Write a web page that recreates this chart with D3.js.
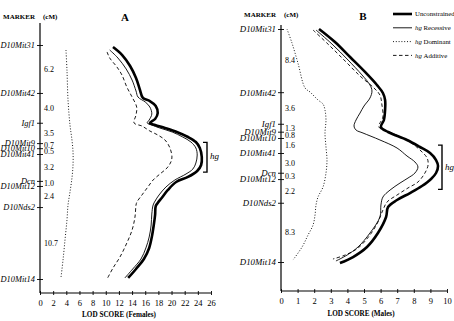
<!DOCTYPE html>
<html><head><meta charset="utf-8">
<script src="https://cdn.jsdelivr.net/npm/d3@7"></script>
<style>
html,body{margin:0;padding:0;background:#fff;}
svg{display:block;font-family:"Liberation Serif","Times New Roman",serif;}
</style></head>
<body><svg id="c" width="454" height="321"></svg>
<script>
// ---------- DATA ----------
const markersA = ["D10Mit31","D10Mit42","Igf1","D10Mit9","D10Mit10","D10Mit41","Dcn","D10Mit12","D10Nds2","D10Mit14"];
const markerPosA = [0, 6.6, 10.7, 13.5, 14.2, 15.0, 18.7, 19.4, 22.3, 32.2];
const intervalsA = ["6.2","4.0","3.5","0.7","0.5","3.2","1.0","2.4","10.7"];
const xTicksA = [0,2,4,6,8,10,12,14,16,18,20,22,24,26];

const markersB = ["D10Mit31","D10Mit42","Igf1","D10Mit9","D10Mit10","D10Mit41","Dcn","D10Mit12","D10Nds2","D10Mit14"];
const markerPosB = [0, 8.0, 12.0, 13.0, 13.8, 15.7, 18.2, 19.0, 22.0, 29.5];
const intervalsB = ["8.4","3.6","1.3","0.8","1.6","3.0","0.3","2.2","8.3"];
const xTicksB = [0,1,2,3,4,5,6,7,8,9,10];

// [position (cM), LOD]
const unconstrainedA = [[0.28,11.1],[1.38,12.5],[2.89,13.7],[4.54,14.6],[6.19,15.2],[7.29,15.65],[7.71,16.7],[8.39,17.6],[9.36,17.9],[10.18,17.5],[10.73,16.7],[11.01,17.5],[11.42,19.0],[11.97,20.8],[12.66,22.5],[13.35,23.7],[14.17,24.3],[15.41,24.6],[16.51,24.5],[17.34,23.9],[18.16,22.5],[18.85,20.7],[19.95,19.45],[21.05,18.5],[21.74,17.9],[22.15,17.6],[23.39,17.5],[24.77,17.3],[26.42,17.0],[27.93,16.6],[29.45,15.8],[30.82,14.6],[32.06,13.4]];
const recessiveA = [[0.69,10.6],[1.79,11.85],[3.30,13.1],[4.82,14.0],[6.33,14.6],[7.16,14.9],[7.84,16.0],[8.53,16.7],[9.50,17.0],[10.32,16.6],[10.73,16.3],[11.01,17.0],[11.42,18.2],[11.97,20.1],[12.66,21.7],[13.35,22.95],[14.17,23.7],[15.14,23.9],[16.24,23.7],[17.06,23.25],[17.75,22.2],[18.58,20.5],[19.54,19.15],[20.64,18.1],[21.47,17.5],[22.02,17.2],[23.26,17.0],[24.77,16.9],[26.42,16.6],[27.93,16.1],[29.45,15.35],[30.82,14.1],[32.06,12.9]];
const dominantA = [[0.69,3.95],[3.44,4.1],[7.57,4.26],[11.01,4.56],[13.07,4.86],[14.72,5.02],[16.51,5.02],[18.30,4.86],[20.23,4.56],[22.02,4.26],[24.08,4.1],[26.83,3.8],[29.59,3.5],[31.93,3.2]];
const additiveA = [[0.96,10.2],[1.79,10.6],[3.03,11.7],[4.13,12.46],[5.78,13.2],[7.16,14.0],[8.53,14.7],[9.63,14.6],[10.73,14.3],[11.15,15.5],[11.83,16.7],[12.38,17.9],[13.07,19.0],[14.17,19.76],[15.41,20.06],[16.10,19.9],[16.93,19.3],[17.75,18.24],[18.58,17.2],[19.54,16.4],[20.64,15.5],[21.60,14.74],[22.02,14.6],[23.67,14.44],[25.46,14.0],[27.25,13.2],[29.17,12.16],[30.69,11.1],[32.2,10.2]];

const unconstrainedB = [[0,2.29],[1.65,3.25],[3.55,4.16],[5.44,5.06],[7.09,5.78],[8.10,6.14],[8.99,6.27],[10.26,6.27],[11.52,6.2],[12.41,6.02],[13.04,6.45],[14.05,7.59],[14.94,8.37],[15.70,8.98],[16.59,9.34],[17.35,9.46],[18.23,9.34],[18.99,9.04],[19.88,8.49],[20.77,7.77],[21.65,6.99],[22.54,6.45],[23.80,6.33],[25.83,5.84],[27.60,5.18],[28.87,4.34],[29.63,3.55]];
const recessiveB = [[0.13,2.11],[1.90,3.07],[3.93,4.04],[5.82,4.88],[7.09,5.36],[7.85,5.48],[8.74,5.36],[9.75,5.0],[10.64,4.76],[11.52,4.52],[12.28,4.40],[12.79,4.52],[13.17,4.94],[14.05,5.96],[15.07,6.99],[16.08,7.59],[16.84,8.07],[17.47,8.25],[18.23,8.07],[18.87,7.65],[19.50,7.17],[20.39,6.57],[21.27,6.14],[22.28,6.02],[23.80,5.96],[25.83,5.36],[27.60,4.64],[28.62,3.98],[29.37,3.31]];
const dominantB = [[0,0.36],[1.77,0.66],[4.30,1.02],[7.47,1.45],[7.98,1.75],[8.99,2.23],[9.50,2.53],[10.26,2.65],[11.52,2.71],[13.17,2.65],[14.94,2.71],[16.59,2.77],[18.23,2.71],[20.01,2.53],[21.27,2.23],[22.28,2.11],[23.55,2.05],[24.82,1.93],[26.08,1.63],[27.60,1.27],[29.25,0.72]];
const additiveB = [[0.13,1.93],[2.03,2.89],[4.05,3.86],[5.95,4.76],[7.47,5.6],[8.36,5.96],[9.62,6.08],[11.14,6.14],[12.41,5.9],[13.17,6.69],[14.31,7.77],[15.32,8.37],[16.33,8.8],[17.22,8.86],[18.23,8.67],[19.37,8.25],[20.13,7.65],[21.02,6.99],[21.90,6.39],[22.92,6.14],[24.44,5.84],[26.08,5.36],[27.73,4.64],[28.62,3.86],[29.12,3.13]];

const hgSpanA = [13.4, 17.5];
const hgSpanB = [14.7, 20.3];
const legendLabels = [["","Unconstrained"],["hg","Recessive"],["hg","Dominant"],["hg","Additive"]];

// ---------- DRAW ----------
const svg = d3.select("#c");
const styles = {
  unconstrained:{w:2.6,dash:null},
  recessive:{w:0.9,dash:null},
  dominant:{w:0.9,dash:"1,1.8"},
  additive:{w:0.9,dash:"3.5,2.5"}
};

function panel(o){
  const g = svg.append("g");
  const x = d3.scaleLinear().domain([0, o.xMax]).range([o.x0, o.x1]);
  const y = d3.scaleLinear().domain([0, o.cmMax]).range([o.yTop, o.yBot]);
  // x axis
  const xa = g.append("g").attr("transform",`translate(0,${o.axisY})`)
    .call(d3.axisBottom(x).tickValues(o.ticks).tickSize(2.5).tickPadding(4).tickFormat(d3.format("d")));
  xa.select(".domain").attr("d",`M${o.x0},0H${o.x1}`).attr("stroke","#000").attr("stroke-width",1.1);
  xa.selectAll(".tick line").attr("y1",-2).attr("y2",2).attr("stroke-width",0.9);
  xa.selectAll(".tick text").attr("font-family","Liberation Serif, serif").attr("font-size",8.5).attr("fill","#000");
  // y axis (markers)
  const ya = g.append("g").attr("transform",`translate(${o.x0},0)`)
    .call(d3.axisLeft(y).tickValues(o.markerPos).tickSize(3).tickPadding(2)
      .tickFormat((d,i)=>o.markers[i]));
  ya.select(".domain").attr("d",`M0,${o.axisTop}V${o.axisY}`).attr("stroke","#000").attr("stroke-width",1.2);
  ya.selectAll(".tick line").attr("x1",-3).attr("x2",3).attr("stroke-width",0.9);
  ya.selectAll(".tick text").attr("font-family","Liberation Serif, serif").attr("font-size",o.markerFont)
    .attr("font-style","italic").attr("fill","#000");
  // interval labels
  g.selectAll("text.iv").data(o.intervals).join("text").attr("class","iv")
    .attr("x",o.x0+4).attr("y",(d,i)=>y((o.markerPos[i]+o.markerPos[i+1])/2))
    .attr("dy","0.35em").attr("font-size",8).attr("fill","#000").text(d=>d);
  // headers
  g.append("text").attr("x",o.x0-5).attr("y",o.headY).attr("text-anchor","end").attr("fill","#000")
    .attr("font-size",7).attr("font-weight","bold").text("MARKER");
  g.append("text").attr("x",o.x0+3).attr("y",o.headY).attr("fill","#000")
    .attr("font-size",7).attr("font-weight","bold").text("(cM)");
  g.append("text").attr("x",o.letterX).attr("y",o.letterY).attr("text-anchor","middle").attr("fill","#000")
    .attr("font-size",11).attr("font-weight","bold").text(o.letter);
  g.append("text").attr("x",o.titleX).attr("y",o.titleY).attr("text-anchor","middle").attr("fill","#000")
    .attr("font-size",7.2).attr("font-weight","bold").text(o.title);
  // curves
  const line = d3.line().x(d=>x(d[1])).y(d=>y(d[0])).curve(d3.curveCatmullRom.alpha(0.5));
  for (const [k,data] of Object.entries(o.series)){
    g.append("path").attr("d",line(data)).attr("fill","none").attr("stroke","#000")
      .attr("stroke-width",styles[k].w).attr("stroke-dasharray",styles[k].dash)
      .attr("stroke-linejoin","round");
  }
  // hg bracket
  const y1 = y(o.hg[0]), y2 = y(o.hg[1]);
  g.append("path").attr("d",`M${o.bx-4},${y1}H${o.bx}V${y2}H${o.bx-4}`)
    .attr("fill","none").attr("stroke","#000").attr("stroke-width",1.4);
  g.append("text").attr("x",o.bx+3).attr("y",o.hgLabelY).attr("dy","0.35em").attr("fill","#000")
    .attr("font-size",9).attr("font-style","italic").text("hg");
  return {x,y};
}

panel({x0:40,x1:211,xMax:26,ticks:xTicksA,yTop:45,yBot:279,cmMax:32.2,axisY:293,axisTop:23,markerFont:8.4,
  markers:markersA,markerPos:markerPosA,intervals:intervalsA,headY:19,letter:"A",letterX:125,letterY:21,
  title:"LOD SCORE (Females)",titleX:119,titleY:317,
  series:{dominant:dominantA,additive:additiveA,recessive:recessiveA,unconstrained:unconstrainedA},
  hg:hgSpanA,bx:207,hgLabelY:156});

panel({x0:281,x1:447,xMax:10,ticks:xTicksB,yTop:29,yBot:262,cmMax:29.5,axisY:291,axisTop:25,markerFont:8.8,
  markers:markersB,markerPos:markerPosB,intervals:intervalsB,headY:17,letter:"B",letterX:363,letterY:20,
  title:"LOD SCORE (Males)",titleX:361,titleY:316,
  series:{dominant:dominantB,additive:additiveB,recessive:recessiveB,unconstrained:unconstrainedB},
  hg:hgSpanB,bx:442,hgLabelY:167});

// legend
const lg = svg.append("g");
legendLabels.forEach((lab,i)=>{
  const key = ["unconstrained","recessive","dominant","additive"][i];
  const yy = 14 + i*13.8;
  lg.append("line").attr("x1",393).attr("x2",412).attr("y1",yy).attr("y2",yy)
    .attr("stroke","#000").attr("stroke-width",styles[key].w).attr("stroke-dasharray",styles[key].dash);
  const t = lg.append("text").attr("x",415).attr("y",yy).attr("dy","0.35em").attr("font-size",6.8).attr("fill","#000");
  if (lab[0]) { t.append("tspan").attr("font-style","italic").text(lab[0]+" "); }
  t.append("tspan").text(lab[1]);
});
</script></body></html>
